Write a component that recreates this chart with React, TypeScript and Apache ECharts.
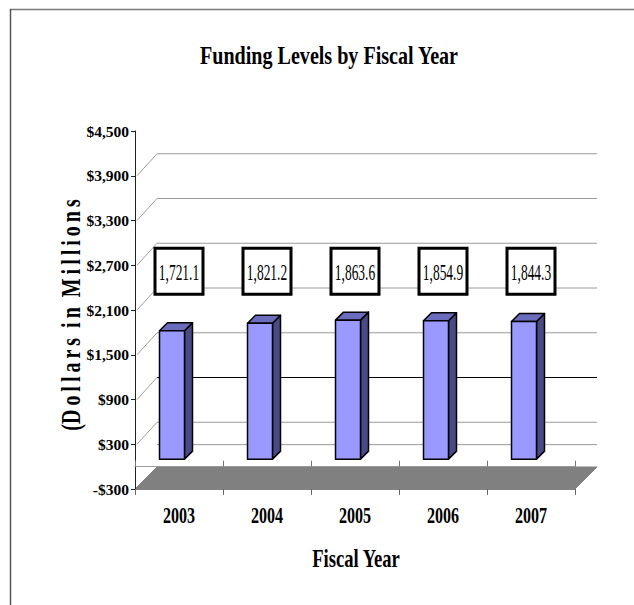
import React, { useEffect, useRef } from "react";
import * as echarts from "echarts";

// Fiscal years and funding (dollars in millions)
const years = ["2003", "2004", "2005", "2006", "2007"];
const funding = [1721.1, 1821.2, 1863.6, 1854.9, 1844.3];

// Value axis range and tick spacing
const axisMin = -300;
const axisMax = 4500;
const axisStep = 600;

// Gridlines on the back wall (values)
const wallLines = [0, 300, 900, 1500, 2100, 2700, 3300, 3900];
const accentLine = 900;

const SERIF = "'Liberation Serif', 'Times New Roman', serif";

// 3-D depth of the plot box and the bars (pixels)
const WALL_DX = 22;
const WALL_DY = 22;
const BAR_DEPTH = 8;
const BAR_W = 25;
const BAR_SHIFT_X = -7;
const BAR_SHIFT_Y = 7.5;
const BOX_LEVEL = 2620;

const THIN = "\u2009";
const spaced = (words: string[]) => words.map((w) => w.split("").join(THIN)).join("  ");

const money = (v: number) => {
  const s = "$" + Math.abs(v).toLocaleString("en-US");
  return v < 0 ? "-" + s : s;
};

export default function App() {
  const ref = useRef<HTMLDivElement>(null);

  useEffect(() => {
    if (!ref.current) return;
    const chart = echarts.init(ref.current, undefined, { renderer: "svg" });

    const option: any = {
      animation: false,
      backgroundColor: "#ffffff",
      grid: { left: 135, top: 131, width: 440, height: 358, containLabel: false },
      xAxis: [
        {
          type: "category",
          data: years,
          position: "bottom",
          axisLine: { onZero: false, lineStyle: { color: "#808080", width: 1 } },
          axisTick: { show: true, length: 6, lineStyle: { color: "#666" } },
          axisLabel: { show: false },
          splitLine: { show: false },
        },
        {
          type: "category",
          data: years,
          z: 4,
          axisLine: { onZero: true, lineStyle: { color: "#9a9a9a", width: 1 } },
          axisTick: { show: true, inside: false, length: 6, lineStyle: { color: "#777" } },
          axisLabel: { show: false },
          splitLine: { show: false },
        },
      ],
      yAxis: {
        type: "value",
        min: axisMin,
        max: axisMax,
        interval: axisStep,
        axisLine: { show: true, onZero: false, lineStyle: { color: "#222", width: 1 } },
        axisTick: { show: true, length: 4, lineStyle: { color: "#222" } },
        splitLine: { show: false },
        axisLabel: {
          margin: 6,
          formatter: (v: number) => money(v),
          fontFamily: SERIF,
          fontWeight: "bold",
          fontSize: 15.5,
          color: "#000",
        },
      },
      graphic: [
        {
          type: "line",
          shape: { x1: 10, y1: 9.5, x2: 634, y2: 9.5 },
          style: { stroke: "#7a7a7a", lineWidth: 1.5 },
        },
        {
          type: "line",
          shape: { x1: 10.5, y1: 9, x2: 10.5, y2: 605 },
          style: { stroke: "#555", lineWidth: 1.5 },
        },
        {
          type: "text",
          x: 329,
          y: 56,
          scaleX: 0.82,
          style: {
            text: "Funding Levels by Fiscal Year",
            fontFamily: SERIF,
            fontWeight: "bold",
            fontSize: 24.5,
            fill: "#000",
            align: "center",
            verticalAlign: "middle",
          },
        },
        {
          type: "text",
          x: 356,
          y: 559,
          scaleX: 0.76,
          style: {
            text: "Fiscal Year",
            fontFamily: SERIF,
            fontWeight: "bold",
            fontSize: 24.5,
            fill: "#000",
            align: "center",
            verticalAlign: "middle",
          },
        },
        {
          type: "text",
          x: 71,
          y: 315,
          rotation: Math.PI / 2,
          scaleX: 0.74,
          style: {
            text: "(" + spaced(["Dollars", "in", "Millions"]),
            fontFamily: SERIF,
            fontWeight: "bold",
            fontSize: 27,
            fill: "#000",
            align: "center",
            verticalAlign: "middle",
          },
        },
      ],
      series: [
        {
          // floor of the plot box
          type: "custom",
          xAxisIndex: 0,
          z: 0,
          silent: true,
          data: [[0]],
          renderItem: (params: any, api: any) => {
            const cs = params.coordSys;
            const yb = api.coord([0, axisMin])[1];
            const l = cs.x;
            const r = cs.x + cs.width;
            return {
              type: "polygon",
              shape: {
                points: [
                  [l, yb],
                  [r, yb],
                  [r + WALL_DX, yb - WALL_DY],
                  [l + WALL_DX, yb - WALL_DY],
                ],
              },
              style: { fill: "#808080", stroke: "#808080", lineWidth: 1 },
            };
          },
        },
        {
          // side-wall and back-wall gridlines
          type: "custom",
          xAxisIndex: 0,
          z: 1,
          silent: true,
          data: wallLines.map((v) => [0, v]),
          renderItem: (params: any, api: any) => {
            const cs = params.coordSys;
            const v = api.value(1);
            const y = api.coord([0, v])[1];
            const l = cs.x;
            const r = cs.x + cs.width;
            const children: any[] = [
              {
                type: "line",
                shape: { x1: l + WALL_DX, y1: y - WALL_DY, x2: r + WALL_DX, y2: y - WALL_DY },
                style: { stroke: v === accentLine ? "#000" : "#9a9a9a", lineWidth: 1 },
              },
            ];
            if (v > 0) {
              children.push({
                type: "line",
                shape: { x1: l + 2, y1: y, x2: l + WALL_DX, y2: y - WALL_DY },
                style: { stroke: "#a0a0a0", lineWidth: 1 },
              });
            }
            return { type: "group", children };
          },
        },
        {
          // 3-D bars
          type: "custom",
          xAxisIndex: 0,
          z: 5,
          data: funding.map((v, i) => [i, v]),
          renderItem: (params: any, api: any) => {
            const i = api.value(0);
            const v = api.value(1);
            const [cx, y0] = api.coord([i, 0]);
            const yv = api.coord([i, v])[1];
            const l = cx + BAR_SHIFT_X - BAR_W / 2;
            const r = l + BAR_W;
            const b = y0 - BAR_SHIFT_Y;
            const t = yv - BAR_SHIFT_Y;
            const d = BAR_DEPTH;
            const edge = { stroke: "#000", lineWidth: 1.5, lineJoin: "round" };
            return {
              type: "group",
              children: [
                {
                  type: "polygon",
                  shape: { points: [[r, b], [r, t], [r + d, t - d], [r + d, b - d]] },
                  style: { fill: "#4a4a86", ...edge },
                },
                {
                  type: "polygon",
                  shape: { points: [[l, t], [r, t], [r + d, t - d], [l + d, t - d]] },
                  style: { fill: "#6c6cbc", ...edge },
                },
                {
                  type: "rect",
                  shape: { x: l, y: t, width: BAR_W, height: b - t },
                  style: { fill: "#9999ff", ...edge },
                },
              ],
            };
          },
        },
        {
          // boxed value labels
          type: "custom",
          xAxisIndex: 0,
          z: 6,
          data: funding.map((v, i) => [i, v]),
          renderItem: (params: any, api: any) => {
            const i = api.value(0);
            const v = api.value(1);
            const [cx, cy] = api.coord([i, BOX_LEVEL]);
            return {
              type: "group",
              children: [
                {
                  type: "rect",
                  shape: { x: cx - 24, y: cy - 23, width: 48, height: 46 },
                  style: { fill: "#fff", stroke: "#000", lineWidth: 3 },
                },
                {
                  type: "text",
                  x: cx,
                  y: cy + 1,
                  scaleX: 0.56,
                  style: {
                    text: v.toLocaleString("en-US", { minimumFractionDigits: 1 }),
                    fontFamily: SERIF,
                    fontSize: 24,
                    fill: "#000000",
                    align: "center",
                    verticalAlign: "middle",
                  },
                },
              ],
            };
          },
        },
        {
          // category labels under the floor
          type: "custom",
          xAxisIndex: 0,
          z: 6,
          data: years.map((y, i) => [i, axisMin]),
          renderItem: (params: any, api: any) => {
            const i = api.value(0);
            const [cx, cy] = api.coord([i, axisMin]);
            return {
              type: "text",
              x: cx,
              y: cy + 26,
              scaleX: 0.7,
              style: {
                text: years[i],
                fontFamily: SERIF,
                fontWeight: "bold",
                fontSize: 23,
                fill: "#000",
                align: "center",
                verticalAlign: "middle",
              },
            };
          },
        },
      ],
    };

    chart.setOption(option);
    return () => chart.dispose();
  }, []);

  return (
    <div
      ref={ref}
      style={{ position: "absolute", left: 0, top: 0, width: 634, height: 605, background: "#fff" }}
    />
  );
}
